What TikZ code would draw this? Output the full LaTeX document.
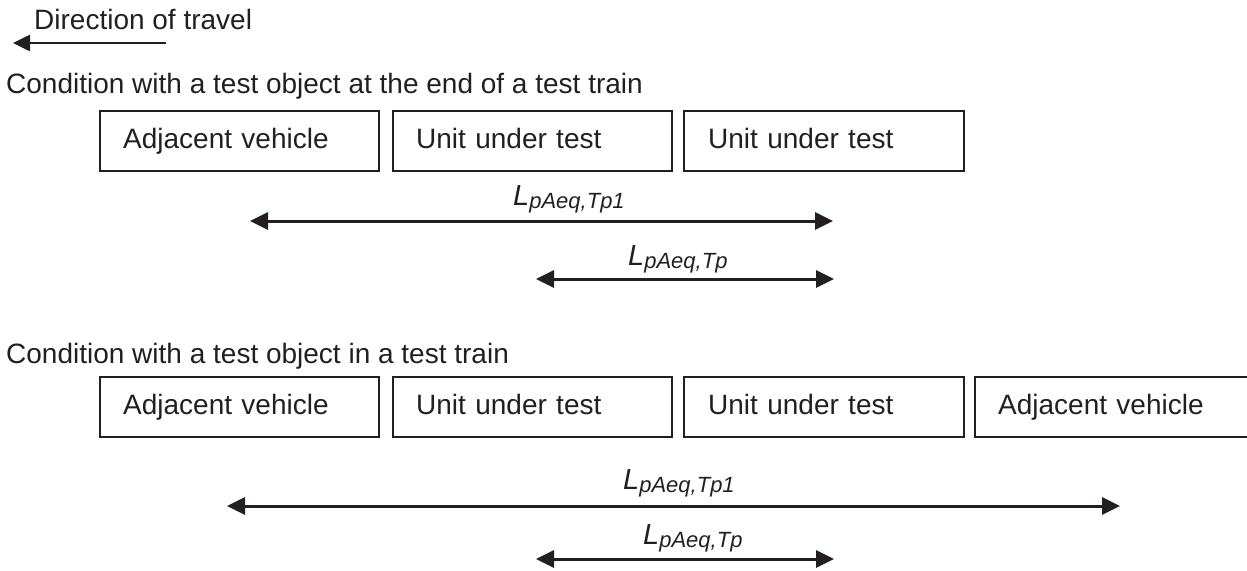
\documentclass[tikz,border=0pt]{standalone}
\usepackage{fontspec}
\setmainfont{Liberation Sans}
\usetikzlibrary{arrows.meta}
\definecolor{ink}{HTML}{231F20}
\tikzset{
  car/.style={draw=ink, line width=2.4pt, minimum height=60pt, inner xsep=23pt,
    text=ink, font=\fontsize{28}{32}\selectfont, text height=20pt, text depth=6pt,
    align=left, anchor=west},
  txt/.style={text=ink, font=\fontsize{28}{32}\selectfont, anchor=base west, inner sep=0pt},
  lab/.style={text=ink, anchor=base west, inner sep=0pt},
  dim/.style={draw=ink, line width=3pt, {Triangle[length=18pt,width=17pt]}-{Triangle[length=18pt,width=17pt]}},
  dir/.style={draw=ink, line width=2.6pt, -{Triangle[length=17pt,width=16pt]}}
}
\newcommand{\Lab}[1]{{\fontsize{29}{32}\selectfont\itshape L\raisebox{-3pt}{\fontsize{22}{24}\selectfont\itshape #1}}}
\begin{document}
\begin{tikzpicture}[x=1pt,y=-1pt]
\useasboundingbox (0,0) rectangle (1247,570);
\clip (0,0) rectangle (1247,570);
% direction of travel
\node[txt] (dirt) at (34,29) {Direction of travel};
\coordinate (d1) at (166,43);
\coordinate (d0) at (13,43);
\draw[dir] (d1) -- (d0);
% condition 1
\node[txt] (t1) at (6,93) {Condition with a test object at the end of a test train};
\node[car, minimum width=279pt, text width=233pt] (a1) at (99,141) {Adjacent vehicle};
\node[car, minimum width=279pt, text width=233pt] (u1) at (392,141) {Unit under test};
\node[car, minimum width=280pt, text width=232pt, inner xsep=24pt] (v1) at (683,141) {Unit under test};
\coordinate (p1l) at (250,221);
\coordinate (p1r) at (833,221);
\draw[dim] (p1l) -- (p1r);
\node[lab] (l1) at (513,205) {\Lab{pAeq,Tp1}};
\coordinate (q1l) at (536,279);
\coordinate (q1r) at (834,279);
\draw[dim] (q1l) -- (q1r);
\node[lab] (m1) at (628,265) {\Lab{pAeq,Tp}};
% condition 2
\node[txt] (t2) at (6,363) {Condition with a test object in a test train};
\node[car, minimum width=279pt, text width=233pt] (a2) at (99,407) {Adjacent vehicle};
\node[car, minimum width=279pt, text width=233pt] (u2) at (392,407) {Unit under test};
\node[car, minimum width=280pt, text width=232pt, inner xsep=24pt] (v2) at (683,407) {Unit under test};
\node[car, minimum width=300pt, text width=254pt] (b2) at (974,407) {Adjacent vehicle};
\coordinate (p2l) at (227,506);
\coordinate (p2r) at (1120,506);
\draw[dim] (p2l) -- (p2r);
\node[lab] (l2) at (623,489) {\Lab{pAeq,Tp1}};
\coordinate (q2l) at (536,559);
\coordinate (q2r) at (834,559);
\draw[dim] (q2l) -- (q2r);
\node[lab] (m2) at (643,544) {\Lab{pAeq,Tp}};
\end{tikzpicture}
\end{document}
